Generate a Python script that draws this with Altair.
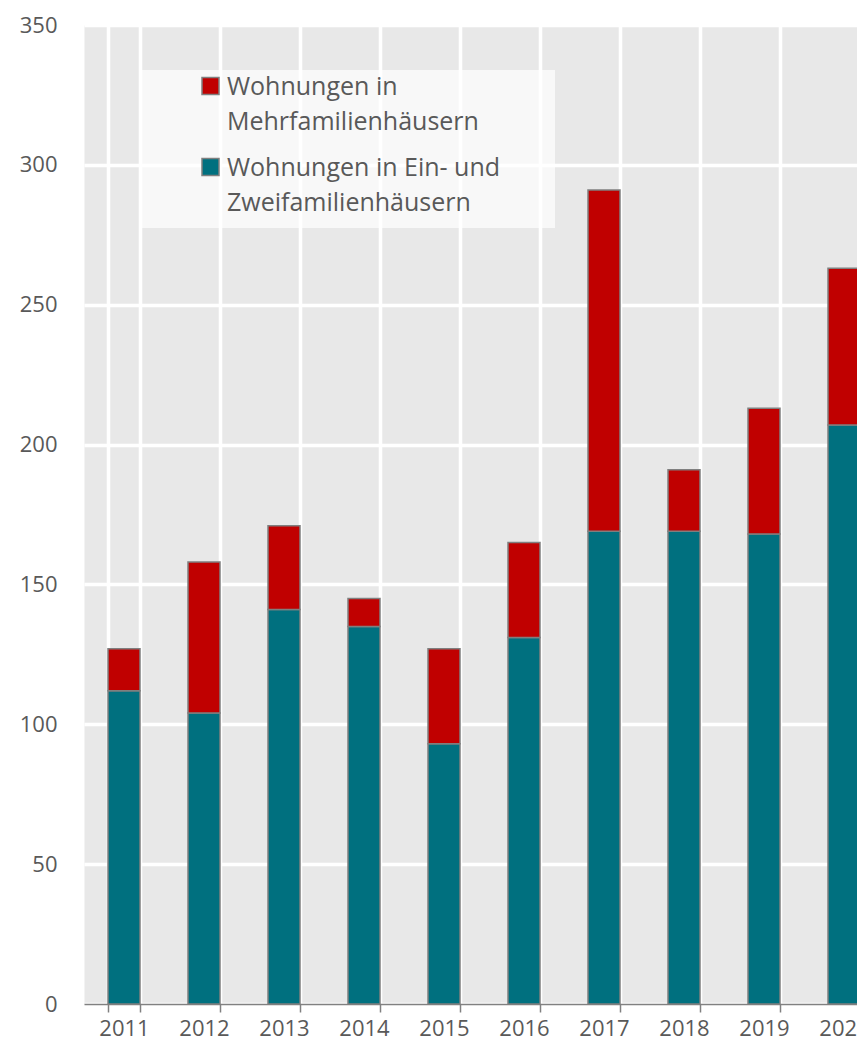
import altair as alt
import pandas as pd

years = ["2011", "2012", "2013", "2014", "2015", "2016", "2017", "2018", "2019", "2020"]
ein_zwei = [112, 104, 141, 135, 93, 131, 169, 169, 168, 207]
mehr = [15, 54, 30, 10, 34, 34, 122, 22, 45, 56]
series_names = ["Wohnungen in|Mehrfamilienhäusern", "Wohnungen in Ein- und|Zweifamilienhäusern"]
colors = ["#c00000", "#00707f"]
y_ticks = [0, 50, 100, 150, 200, 250, 300, 350]

rows = []
for i, yr in enumerate(years):
    rows.append({"Jahr": yr, "Serie": series_names[1], "Wert": ein_zwei[i], "Ordnung": 0})
    rows.append({"Jahr": yr, "Serie": series_names[0], "Wert": mehr[i], "Ordnung": 1})
df = pd.DataFrame(rows)

FONT = "Open Sans"
TXT = "#595959"

chart = alt.Chart(df).mark_bar(stroke="#7f7f7f", strokeWidth=1.5).encode(
    x=alt.X(
        "Jahr:N", title=None,
        scale=alt.Scale(range=[0, 800], paddingInner=0.6, paddingOuter=0.3),
        axis=alt.Axis(
            labelAngle=0, tickBand="extent", grid=True, gridColor="white", gridWidth=3.5,
            domainColor="#808080", domainWidth=1.5, tickColor="#808080", tickSize=8,
            tickWidth=1.5, labelPadding=23, labelBaseline="alphabetic",
            labelFontSize=22, labelColor=TXT, labelFont=FONT,
        ),
    ),
    y=alt.Y(
        "Wert:Q", title=None, stack="zero",
        scale=alt.Scale(domain=[0, 350], nice=False),
        axis=alt.Axis(
            values=y_ticks, domain=False, ticks=False, tickSize=0, labelPadding=27,
            grid=True, gridColor="white", gridWidth=3.5,
            labelFontSize=22, labelColor=TXT, labelFont=FONT,
        ),
    ),
    color=alt.Color(
        "Serie:N",
        scale=alt.Scale(domain=series_names, range=colors),
        legend=alt.Legend(
            title=" ", titleOrient="right", titlePadding=43, titleFontSize=11,
            orient="none", legendX=58, legendY=45,
            fillColor="rgba(255,255,255,0.7)", padding=12,
            symbolType="M0,-3.8M-1,-2H1V0H-1Z", symbolSize=289, symbolStrokeColor="#7f7f7f",
            symbolStrokeWidth=1.5, symbolOffset=44, labelOffset=4,
            labelFont=FONT, labelFontSize=25, labelColor=TXT, labelLimit=600,
            labelBaseline="alphabetic", rowPadding=5,
            labelExpr="split(datum.label, '|')",
        ),
    ),
    order=alt.Order("Ordnung:Q", sort="ascending"),
).properties(
    width=773, height=979,
    autosize=alt.AutoSizeParams(type="none"),
    padding={"top": 17, "left": 76, "right": 0, "bottom": 38},
).configure(
    view=alt.ViewConfig(fill="#e8e8e8", strokeOpacity=0),
    style={"guide-label": {"lineHeight": 35}},
)

chart.save("out.html", embed_options={"renderer": "svg", "actions": False})
